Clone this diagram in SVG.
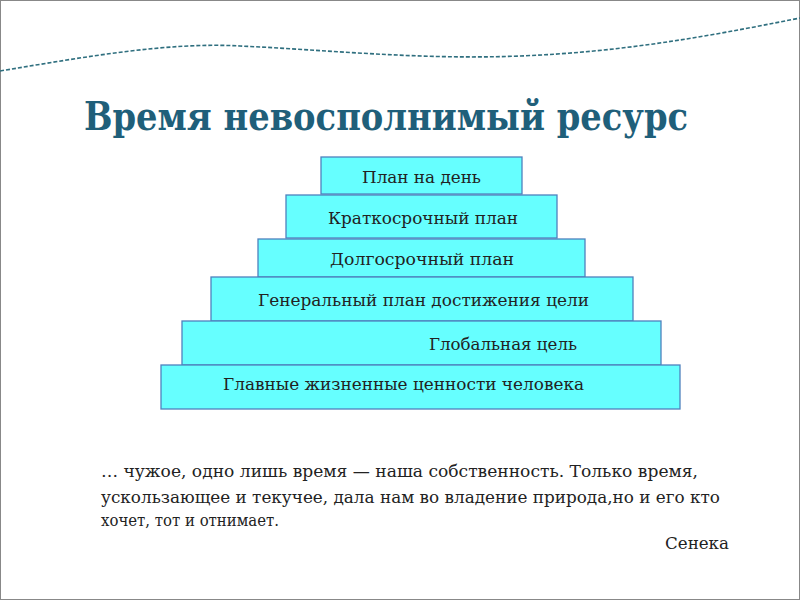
<svg xmlns="http://www.w3.org/2000/svg" width="800" height="600" viewBox="0 0 800 600">
<style>
.box{fill:#66ffff;stroke:#4f81bd;stroke-width:1.3}
.lbl{font-family:"DejaVu Serif","Liberation Serif",serif;font-size:16px;fill:#222}
.q{font-family:"DejaVu Serif","Liberation Serif",serif;font-size:16px;fill:#222}
.title{font-family:"DejaVu Serif",serif;font-size:40px;font-weight:700;fill:#1f5f7a}
.wave{fill:none;stroke:#2f6f7f;stroke-width:1.6;stroke-dasharray:4 2}
</style>
<rect x="0" y="0" width="800" height="600" fill="#ffffff"/>
<rect x="0.5" y="0.5" width="799" height="599" fill="none" stroke="#888" stroke-width="1"/>
<path class="wave" d="M0,71 C90,56 170,42 240,46 C330,50 420,60 520,56 C620,52 700,38 800,18"/>
<text class="title" x="84" y="130" textLength="604" lengthAdjust="spacingAndGlyphs">Время невосполнимый ресурс</text>
<g id="n1"><rect class="box" x="321" y="157" width="201" height="37"/><text class="lbl" x="362" y="183" textLength="119" lengthAdjust="spacingAndGlyphs">План на день</text></g>
<g id="n2"><rect class="box" x="286" y="195" width="271" height="43"/><text class="lbl" x="328" y="224" textLength="190" lengthAdjust="spacingAndGlyphs">Краткосрочный план</text></g>
<g id="n3"><rect class="box" x="258" y="239" width="327" height="38"/><text class="lbl" x="330" y="265" textLength="184" lengthAdjust="spacingAndGlyphs">Долгосрочный план</text></g>
<g id="n4"><rect class="box" x="211" y="277" width="422" height="44"/><text class="lbl" x="258" y="306" textLength="331" lengthAdjust="spacingAndGlyphs">Генеральный план достижения цели</text></g>
<g id="n5"><rect class="box" x="182" y="321" width="479" height="44"/><text class="lbl" x="429" y="350" textLength="148" lengthAdjust="spacingAndGlyphs">Глобальная цель</text></g>
<g id="n6"><rect class="box" x="161" y="365" width="519" height="44"/><text class="lbl" x="223" y="390" textLength="361" lengthAdjust="spacingAndGlyphs">Главные жизненные ценности человека</text></g>
<g id="quote">
<text class="q" x="101" y="477" textLength="597" lengthAdjust="spacingAndGlyphs">… чужое, одно лишь время — наша собственность. Только время,</text>
<text class="q" x="101" y="503" textLength="619" lengthAdjust="spacingAndGlyphs">ускользающее и текучее, дала нам  во владение природа,но и его кто</text>
<text class="q" x="101" y="526" textLength="178" lengthAdjust="spacingAndGlyphs">хочет, тот и отнимает.</text>
<text class="q" x="665" y="549" textLength="64" lengthAdjust="spacingAndGlyphs">Сенека</text>
</g>
</svg>
